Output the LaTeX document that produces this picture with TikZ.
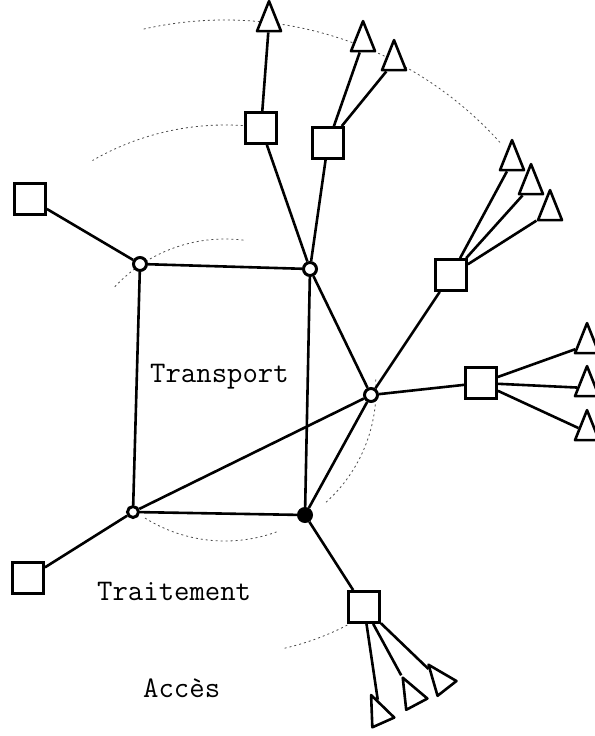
\documentclass[tikz,border=0pt]{standalone}
\usepackage{fontspec}
\usepackage{tikz}
\usetikzlibrary{shapes}

\begin{document}
\begin{tikzpicture}[x=1bp,y=-1bp,
  box/.style={draw,line width=2.8bp,minimum size=31bp,inner sep=0pt,fill=white},
  hub/.style={draw,circle,line width=3bp,minimum size=13bp,inner sep=0pt,fill=white},
  term/.style={draw,isosceles triangle,isosceles triangle stretches,minimum width=24bp,minimum height=30bp,inner sep=0pt,line width=2.6bp,line join=round,fill=white,rotate=#1},
  term/.default=90,
  link/.style={line width=2.6bp},
  zone/.style={black!70,line width=0.8bp,dash pattern=on 2bp off 3bp},
  lbl/.style={font=\ttfamily\fontsize{30}{30}\selectfont,anchor=base west,inner sep=0pt}]
\useasboundingbox (0,0) rectangle (595,736);
\coordinate (ctr) at (225,390);
\draw[zone] (ctr) ++(83:151bp) arc[start angle=83,end angle=137,radius=151bp];
\draw[zone] (ctr) ++(-48:151bp) arc[start angle=-48,end angle=4,radius=151bp];
\draw[zone] (ctr) ++(-122:151bp) arc[start angle=-122,end angle=-69,radius=151bp];
\draw[zone] (ctr) ++(84:265bp) arc[start angle=84,end angle=120,radius=265bp];
\draw[zone] (ctr) ++(-77:265bp) arc[start angle=-77,end angle=-58,radius=265bp];
\draw[zone] (ctr) ++(42:370bp) arc[start angle=42,end angle=103,radius=370bp];
\node[hub] (a) at (140,264) {};
\node[hub] (b) at (310,269) {};
\node[hub] (c) at (371,395) {};
\node[hub,minimum size=11bp] (d) at (133,512) {};
\node[hub,fill=black] (e) at (305,515) {};
\node[box] (s1) at (30,199) {};
\node[box] (s2) at (261,128) {};
\node[box] (s3) at (328,143) {};
\node[box] (s4) at (451,275) {};
\node[box] (s5) at (481,383) {};
\node[box] (s6) at (28,578) {};
\node[box] (s7) at (364,607) {};
\node[term] (t1) at (269,23) {};
\node[term] (t2) at (363,43) {};
\node[term] (t3) at (394,62) {};
\node[term] (t4) at (512,162) {};
\node[term] (t5) at (531,186) {};
\node[term] (t6) at (550,212) {};
\node[term] (t7) at (587,345) {};
\node[term] (t8) at (587,388) {};
\node[term] (t9) at (587,432) {};
\node[term=114] (t10) at (380,715) {};
\node[term=118] (t11) at (413,697) {};
\node[term=128] (t12) at (442,682) {};
\draw[link] (a) -- (b) -- (e) -- (d) -- (a);
\draw[link] (d) -- (c) (b) -- (c) (e) -- (c);
\draw[link] (a) -- (s1) (d) -- (s6) (e) -- (s7) (b) -- (s2) (b) -- (s3) (c) -- (s4) (c) -- (s5);
\draw[link] (s2) -- (t1) (s3) -- (t2) (s3) -- (t3);
\draw[link] (s4) -- (t4) (s4) -- (t5) (s4) -- (t6);
\draw[link] (s5) -- (t7) (s5) -- (t8) (s5) -- (t9);
\draw[link] (s7) -- (t10) (s7) -- (t11) (s7) -- (t12);
\node[lbl] (transport) at (150,382) {Transport};
\node[lbl] (traitement) at (97,600) {Traitement};
\node[lbl] (acces) at (143,697) {Accès};
\end{tikzpicture}
\end{document}
